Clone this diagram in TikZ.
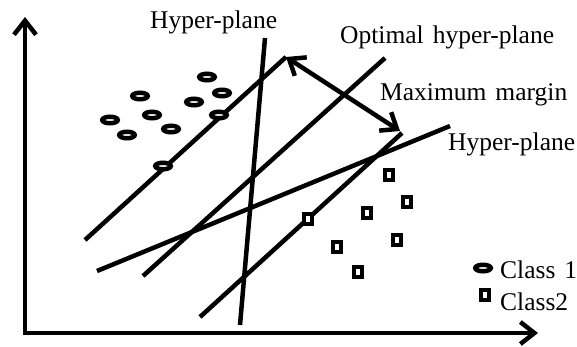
\documentclass[tikz,border=0pt]{standalone}
\usepackage{fontspec}
\setmainfont{Liberation Serif}
\usetikzlibrary{arrows.meta,shapes.geometric}
\newcommand\lblfont{\fontsize{25.5}{30}\selectfont\spaceskip=9pt\relax}
\begin{document}
\begin{tikzpicture}[x=1pt,y=-1pt,
  ln/.style={line width=4.5pt},
  barb/.tip={Straight Barb[length=14pt,width=22pt,line width=4.5pt]},
  lbl/.style={font=\lblfont, inner sep=0pt, anchor=base west},
  cls1/.style={draw, ellipse, line width=4.5pt, minimum width=15.5pt, minimum height=6.5pt, inner sep=0pt, fill=white},
  cls2/.style={draw, rectangle, line width=4pt, minimum width=8.5pt, minimum height=9.5pt, inner sep=0pt, fill=white}]
\useasboundingbox (0,0) rectangle (577,346);
% axes
\coordinate (ytip) at (25,17);
\coordinate (origin) at (25,333);
\coordinate (xtip) at (538,333);
\draw[ln, line join=miter, {barb}-{barb}] (ytip) -- (origin) -- (xtip);
% hyper-planes
\coordinate (v1) at (240,325); \coordinate (v2) at (265,38);
\coordinate (s1a) at (85,240); \coordinate (s1b) at (286,57);
\coordinate (oa) at (143,276); \coordinate (ob) at (385,58);
\coordinate (s2a) at (200,317); \coordinate (s2b) at (402,133);
\coordinate (ha) at (97,271); \coordinate (hb) at (450,126);
\draw[ln] (v1) -- (v2);
\draw[ln] (s1a) -- (s1b);
\draw[ln] (oa) -- (ob);
\draw[ln] (s2a) -- (s2b);
\draw[ln] (ha) -- (hb);
% margin arrow
\draw[ln, {barb}-{barb}] (s1b) -- (400,131);
% class 1
\foreach \p [count=\i] in {(207,77),(140,96),(222,93),(194,102),(110,120),(152,115),(219,115),(127,135),(171,129),(163,166)}
  \node[cls1] (a\i) at \p {};
% class 2
\foreach \p [count=\i] in {(389,175),(407,202),(367,213),(308,219),(397,240),(337,247),(358,272)}
  \node[cls2] (b\i) at \p {};
% labels
\node[lbl] (t1) at (150,28) {Hyper-plane};
\node[lbl] (t2) at (340,43) {Optimal hyper-plane};
\node[lbl] (t3) at (380,100) {Maximum margin};
\node[lbl] (t4) at (448,150) {Hyper-plane};
% legend
\node[cls1] (l1) at (483,268) {};
\node[cls2] (l2) at (485,295) {};
\node[lbl] (c1) at (500,278) {Class 1};
\node[lbl] (c2) at (500,310) {Class2};
\end{tikzpicture}
\end{document}
